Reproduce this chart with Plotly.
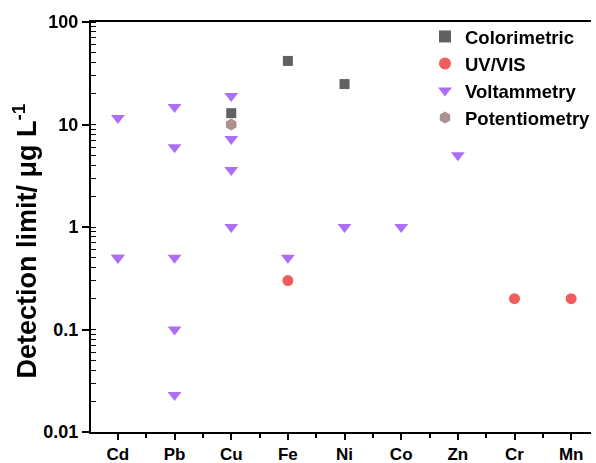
import plotly.graph_objects as go

elements = ["Cd", "Pb", "Cu", "Fe", "Ni", "Co", "Zn", "Cr", "Mn"]
idx = {e: i for i, e in enumerate(elements)}

colori_el = ["Cu", "Fe", "Ni"]
colori_val = [12.9, 41.7, 24.8]

uv_el = ["Fe", "Cr", "Mn"]
uv_val = [0.3, 0.2, 0.2]

volt_el = ["Cd", "Cd", "Cd", "Pb", "Pb", "Pb", "Pb", "Pb", "Cu", "Cu", "Cu", "Cu", "Fe", "Ni", "Co", "Zn"]
volt_val = [11.6, 0.5, 0.5, 14.8, 6.0, 0.5, 0.1, 0.023, 19.0, 7.2, 3.6, 1.0, 0.5, 1.0, 1.0, 5.0]

poten_el = ["Cu"]
poten_val = [10.0]

yticks = [0.01, 0.1, 1, 10, 100]
yticklabels = ["0.01", "0.1", "1", "10", "100"]
ytitle = "Detection limit/ μg L<sup>-1</sup>"

fig = go.Figure()
fig.add_trace(go.Scatter(x=[idx[e] for e in colori_el], y=colori_val, mode="markers", name="Colorimetric",
                         marker=dict(symbol="square", size=10, color="#616161")))
fig.add_trace(go.Scatter(x=[idx[e] for e in uv_el], y=uv_val, mode="markers", name="UV/VIS",
                         marker=dict(symbol="circle", size=11, color="#F25C5C")))
fig.add_trace(go.Scatter(x=[idx[e] for e in volt_el], y=volt_val, mode="markers", name="Voltammetry",
                         marker=dict(symbol="triangle-down", size=12, color="#9D55F2"), opacity=0.85))
fig.add_trace(go.Scatter(x=[idx[e] for e in poten_el], y=poten_val, mode="markers", name="Potentiometry",
                         marker=dict(symbol="hexagon", size=12, color="#AE9090")))

font_family = "Liberation Sans, Arial, sans-serif"
fig.update_layout(
    width=596, height=463,
    margin=dict(l=91, r=0, t=22, b=31),
    plot_bgcolor="white", paper_bgcolor="white",
    font=dict(family=font_family, color="black"),
    showlegend=True,
    legend=dict(x=0.668, y=1.01, xanchor="left", yanchor="top", bgcolor="rgba(0,0,0,0)",
                font=dict(size=18.5, family=font_family, weight="bold"), tracegroupgap=0,
                itemsizing="constant", itemwidth=30),
    xaxis=dict(
        range=[-0.475, 8.35], tickmode="array", tickvals=list(range(len(elements))), ticktext=elements,
        showgrid=False, zeroline=False, showline=True, linecolor="black", linewidth=2, mirror=True,
        ticks="outside", ticklen=6, tickwidth=1.5, tickcolor="black", automargin=False,
        tickfont=dict(size=17, family=font_family, weight="bold"),
        minor=dict(tick0=0.5, dtick=1, ticks="outside", ticklen=4, tickwidth=1.5, tickcolor="black", showgrid=False),
    ),
    yaxis=dict(
        type="log", range=[-2, 2], tickmode="array", tickvals=yticks, ticktext=yticklabels,
        showgrid=False, zeroline=False, showline=True, linecolor="black", linewidth=2,
        ticks="outside", ticklen=7, tickwidth=1.5, tickcolor="black", automargin=False,
        tickfont=dict(size=18, family=font_family, weight="bold"),
        minor=dict(dtick="D1", ticks="inside", ticklen=5, tickwidth=1.2, tickcolor="black", showgrid=False),
    ),
    annotations=[dict(text=ytitle, xref="paper", yref="paper", x=-0.1327, y=0.466,
                      xanchor="center", yanchor="middle", textangle=-90, showarrow=False,
                      font=dict(size=27, family=font_family, weight="bold", color="black"))],
)

fig.write_html("out.html")
